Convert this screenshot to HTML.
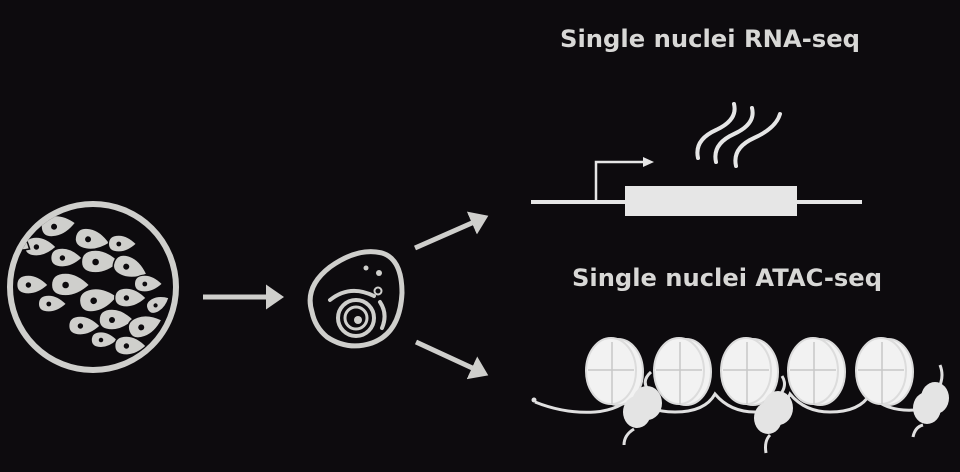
<!DOCTYPE html>
<html><head><style>
html,body{margin:0;padding:0;background:#0d0b0e;}
svg{display:block}
text{font-family:"DejaVu Sans","Liberation Sans",sans-serif;font-weight:bold;fill:#d8d8d6;font-size:24px}
</style></head><body>
<svg width="960" height="472" viewBox="0 0 960 472">
<rect width="960" height="472" fill="#0d0b0e"/>
<defs>
<clipPath id="dc"><circle cx="93" cy="287" r="80"/></clipPath>
<marker id="ah" markerWidth="5" markerHeight="5" refX="2" refY="2.5" orient="auto" markerUnits="strokeWidth"><path d="M0,0 L3.6,2.5 L0,5Z" fill="#cfcfcc"/></marker>
<g id="c"><path d="M-17,0 q0,-11 13,-11 q11,0 22,11 q-11,10 -22,10 q-13,0 -13,-10z" fill="#cfcfcc" stroke="#0d0b0e" stroke-width="1.5"/><circle cx="-4" cy="0" r="3" fill="#0d0b0e"/></g>
</defs>
<!-- dish -->
<circle cx="93" cy="287" r="83" fill="none" stroke="#cfcfcc" stroke-width="6"/>
<g clip-path="url(#dc)">
<use href="#c" transform="translate(58,226) rotate(-10)"/>
<use href="#c" transform="translate(40,247) scale(0.9)"/>
<use href="#c" transform="translate(92,240) rotate(10)"/>
<use href="#c" transform="translate(122,244) scale(0.8)"/>
<use href="#c" transform="translate(66,258) scale(0.9)"/>
<use href="#c" transform="translate(100,262) scale(1.1)"/>
<use href="#c" transform="translate(130,268) rotate(20)"/>
<use href="#c" transform="translate(32,285) scale(0.9)"/>
<use href="#c" transform="translate(70,285) scale(1.1)"/>
<use href="#c" transform="translate(148,284) scale(0.8)"/>
<use href="#c" transform="translate(52,304) scale(0.8)"/>
<use href="#c" transform="translate(98,300) scale(1.1) rotate(-10)"/>
<use href="#c" transform="translate(130,298) scale(0.9)"/>
<use href="#c" transform="translate(158,304) scale(0.7) rotate(-30)"/>
<use href="#c" transform="translate(84,326) scale(0.9)"/>
<use href="#c" transform="translate(116,320)"/>
<use href="#c" transform="translate(145,326) rotate(-20)"/>
<use href="#c" transform="translate(104,340) scale(0.75)"/>
<use href="#c" transform="translate(130,346) scale(0.9)"/>
<use href="#c" transform="translate(14,240) rotate(30)"/>
</g>
<!-- arrows -->
<line x1="203" y1="297" x2="276" y2="297" stroke="#cfcfcc" stroke-width="5" marker-end="url(#ah)"/>
<line x1="415" y1="248" x2="481" y2="219" stroke="#cfcfcc" stroke-width="5" marker-end="url(#ah)"/>
<line x1="416" y1="342" x2="481" y2="372" stroke="#cfcfcc" stroke-width="5" marker-end="url(#ah)"/>
<!-- single cell -->
<path d="M312,312 q-8,-25 18,-45 q28,-20 52,-14 q20,6 20,40 q-2,40 -30,50 q-24,8 -45,-6 q-12,-10 -15,-25z" fill="none" stroke="#cfcfcc" stroke-width="5"/>
<circle cx="356" cy="318" r="18" fill="none" stroke="#cfcfcc" stroke-width="4"/>
<circle cx="356" cy="318" r="11" fill="none" stroke="#cfcfcc" stroke-width="3"/>
<circle cx="358" cy="320" r="4" fill="#cfcfcc"/>
<path d="M330,300 q20,-16 44,-4" fill="none" stroke="#cfcfcc" stroke-width="4" stroke-linecap="round"/>
<path d="M380,302 q8,12 2,26" fill="none" stroke="#cfcfcc" stroke-width="4" stroke-linecap="round"/>
<circle cx="366" cy="268" r="2.5" fill="#cfcfcc"/><circle cx="379" cy="273" r="3" fill="#cfcfcc"/><circle cx="378" cy="291" r="3.5" fill="none" stroke="#cfcfcc" stroke-width="2"/>
<!-- RNA-seq -->
<text x="560" y="47" textLength="300" lengthAdjust="spacingAndGlyphs">Single nuclei RNA-seq</text>
<line x1="531" y1="202" x2="862" y2="202" stroke="#e6e6e6" stroke-width="4"/>
<rect x="625" y="186" width="172" height="30" fill="#e6e6e6"/>
<path d="M596,202 V162 H644" fill="none" stroke="#e6e6e6" stroke-width="2.5"/>
<path d="M643,157 L654,162 L643,167Z" fill="#e6e6e6"/>
<g fill="none" stroke="#e6e6e6" stroke-width="4" stroke-linecap="round">
<path d="M698,158 q-4,-18 18,-28 q22,-10 18,-26"/>
<path d="M716,162 q-4,-18 18,-28 q22,-10 18,-26"/>
<path d="M736,166 q-4,-18 18,-28 q22,-10 26,-24"/>
</g>
<!-- ATAC-seq -->
<text x="572" y="286" textLength="310" lengthAdjust="spacingAndGlyphs">Single nuclei ATAC-seq</text>
<g fill="none" stroke="#e0e0e0" stroke-width="3">
<path d="M535,402 q30,12 60,10 q25,-2 40,-18 q10,18 40,18 q30,0 40,-18 q15,18 40,18 q28,0 35,-18 q15,18 40,18 q30,0 40,-18 q15,18 45,16 q20,-2 30,-5"/>
<path d="M624,445 q0,-10 10,-16"/><path d="M647,388 q-5,-8 4,-16"/>
<path d="M766,453 q-2,-12 4,-18"/><path d="M782,392 q5,-8 0,-16"/>
<path d="M913,437 q2,-10 10,-12"/><path d="M940,385 q4,-10 0,-20"/>
</g>
<circle cx="534" cy="400" r="2.5" fill="#e0e0e0"/>
<g fill="#f2f2f2" stroke="#dcdcdc" stroke-width="2">
<ellipse cx="618" cy="372" rx="25" ry="33"/><ellipse cx="611" cy="371" rx="25" ry="33"/>
<ellipse cx="686" cy="372" rx="25" ry="33"/><ellipse cx="679" cy="371" rx="25" ry="33"/>
<ellipse cx="753" cy="372" rx="25" ry="33"/><ellipse cx="746" cy="371" rx="25" ry="33"/>
<ellipse cx="820" cy="372" rx="25" ry="33"/><ellipse cx="813" cy="371" rx="25" ry="33"/>
<ellipse cx="888" cy="372" rx="25" ry="33"/><ellipse cx="881" cy="371" rx="25" ry="33"/>
</g>
<g stroke="#c8c8c8" stroke-width="1.5" fill="none">
<path d="M588,370 H634 M612,342 V404"/><path d="M656,370 H702 M680,342 V404"/>
<path d="M723,370 H769 M747,342 V404"/><path d="M790,370 H836 M814,342 V404"/>
<path d="M858,370 H904 M882,342 V404"/>
</g>
<g fill="#e4e4e4">
<ellipse cx="647" cy="403" rx="15" ry="17"/><ellipse cx="637" cy="412" rx="14" ry="16"/>
<ellipse cx="778" cy="408" rx="15" ry="17"/><ellipse cx="768" cy="418" rx="14" ry="16"/>
<ellipse cx="935" cy="398" rx="14" ry="16"/><ellipse cx="927" cy="408" rx="14" ry="16"/>
</g>
</svg>
</body></html>
